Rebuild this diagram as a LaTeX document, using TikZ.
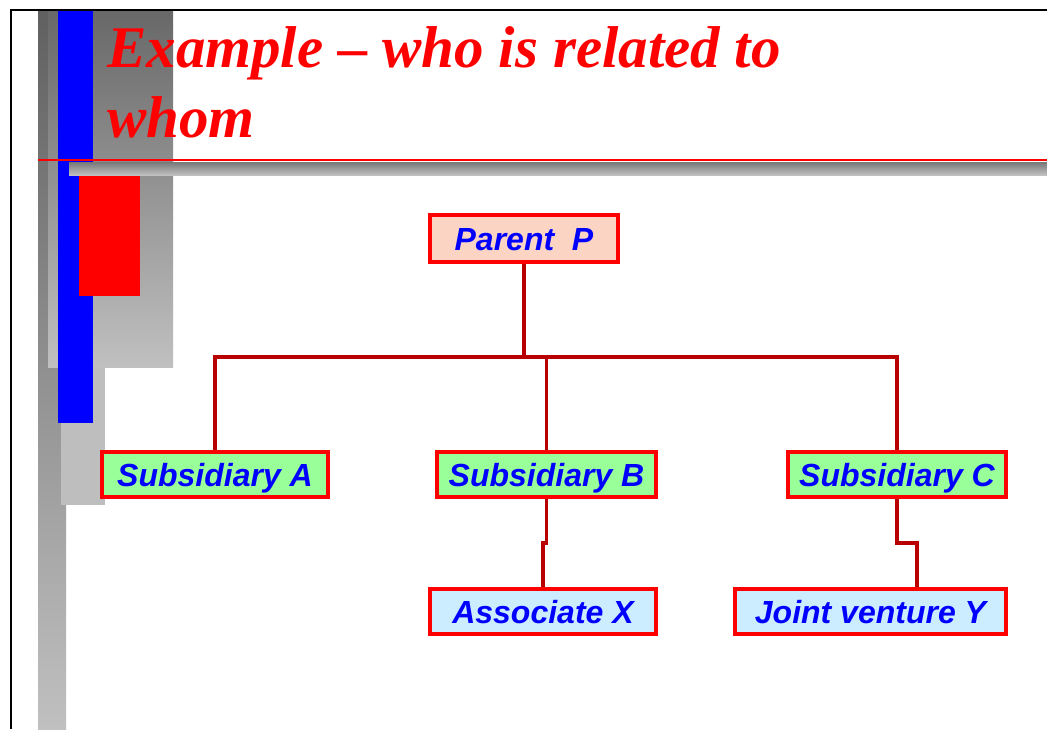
\documentclass[tikz,border=0pt]{standalone}
\usepackage{fontspec}
\setmainfont{Liberation Serif}
\newfontfamily\boxfont{Liberation Sans}
\definecolor{conncol}{HTML}{B80000}
\definecolor{peach}{HTML}{FBD4C4}
\definecolor{subgreen}{HTML}{99FF99}
\definecolor{lightblu}{HTML}{CCECFF}
\definecolor{gdark}{HTML}{606060}
\definecolor{gdark2}{HTML}{686868}
\definecolor{glight}{HTML}{C0C0C0}
\definecolor{gmid}{HTML}{BEBEBE}
\begin{document}
\begin{tikzpicture}[x=1pt,y=-1pt,
  ent/.style={draw=red, line width=4pt, text=blue, inner sep=0pt,
    text height=23pt, text depth=0pt,
    font=\boxfont\bfseries\itshape\fontsize{32}{38}\selectfont, minimum height=45pt},
  parentbox/.style={ent, fill=peach, minimum height=47pt},
  subbox/.style={ent, fill=subgreen},
  assocbox/.style={ent, fill=lightblu},
  conn/.style={draw=conncol, line width=3.5pt},
  titletext/.style={text=red, inner sep=0pt, anchor=base west,
    font=\bfseries\itshape\fontsize{59}{70}\selectfont}
]
\useasboundingbox (0,0) rectangle (1047,729);
\fill[white] (0,0) rectangle (1047,729);
% decorative bars
\fill[top color=gdark, bottom color=glight] (38,10) rectangle (66,729);
\fill[gmid] (61,10) rectangle (105,505);
\fill[top color=gdark2, bottom color=glight] (48,10) rectangle (173,367);
\fill[blue] (58,10) rectangle (93,423);
\fill[red] (79,175) rectangle (140,296);
\fill[top color=gdark2!90, bottom color=glight] (69,162) rectangle (1047,175);
\draw[red, line width=2pt] (38,160) -- (1047,160);
% frame
\draw[black, line width=2pt] (11,729) -- (11,10) -- (1047,10);
% title
\node[titletext] (title1) at (107,67) {Example -- who is related to};
\node[titletext] (title2) at (107,137) {whom};
% boxes
\node[parentbox, minimum width=188pt] (P) at (524,238.5) {Parent\ \ P};
\node[subbox, minimum width=226pt] (A) at (215,474.5) {Subsidiary A};
\node[subbox, minimum width=219pt] (B) at (546.5,474.5) {Subsidiary B};
\node[subbox, minimum width=218pt] (C) at (897,474.5) {Subsidiary C};
\node[assocbox, minimum width=226pt] (X) at (543,611.5) {Associate X};
\node[assocbox, minimum width=271pt] (Y) at (870.5,611.5) {Joint venture Y};
% connector coordinates
\coordinate (busL) at (215,357);
\coordinate (busR) at (897,357);
\coordinate (jB) at (547,543);
\coordinate (jC) at (917,543);
\coordinate (Yin) at (917,587);
% connectors
\draw[conn] (P.south) -- (P.south |- busL);
\draw[conn] (A.north) -- (busL) -- (busR) -- (C.north);
\draw[conn] (B.north |- busL) -- (B.north);
\draw[conn] (B.south) -- (B.south |- jB) -- (X.north |- jB) -- (X.north);
\draw[conn] (C.south) -- (C.south |- jC) -- (jC) -- (Yin);
\end{tikzpicture}
\end{document}
